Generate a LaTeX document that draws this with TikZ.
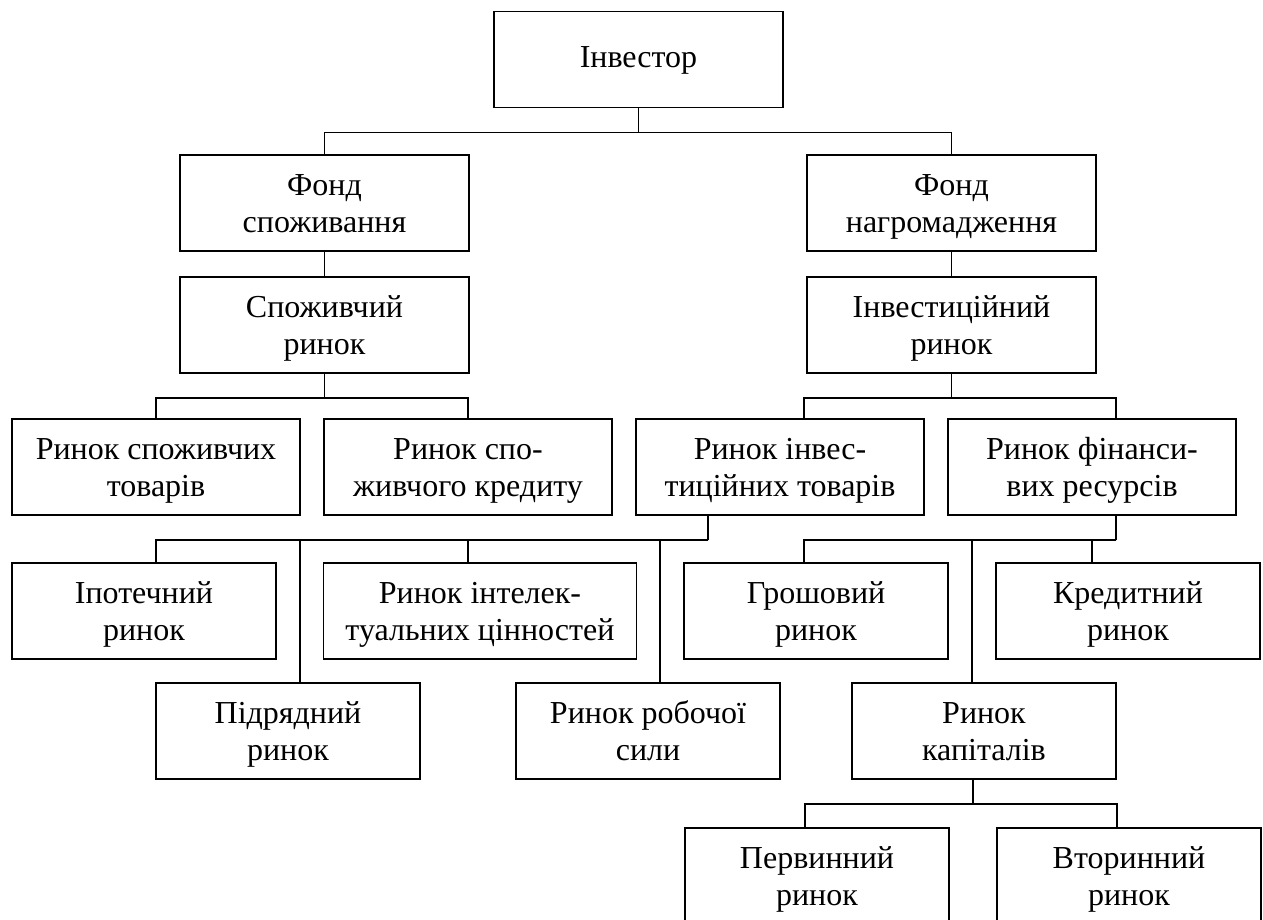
\documentclass[tikz,border=0pt]{standalone}
\usepackage{fontspec}
\setmainfont{Liberation Serif}
\usetikzlibrary{positioning}

\begin{document}
\begin{tikzpicture}[
      x=1pt, y=-1pt,
      node distance=24pt,
      base/.style={rectangle,draw,line width=1.8pt,minimum width=264pt,minimum height=96pt,
        align=center,text height=59pt,text depth=0pt,font=\fontsize{32}{37}\selectfont},
      wide/.style={base,minimum width=289pt},
      link/.style={line width=1.8pt}
    ]
    \clip (0,0) rectangle (1263,919);

    % Top
    \node[wide,text height=22pt,text depth=7pt] (Inv) at (638.5,59.5) {Інвестор};
    \node[wide] (FS) at (324.5,203) {Фонд\\споживання};
    \node[wide] (FN) at (951.5,203) {Фонд\\нагромадження};
    \node[wide,below=of FS] (SR) {Споживчий\\ринок};
    \node[wide,below=of FN] (IR) {Інвестиційний\\ринок};

    % Markets
    \node[wide,minimum width=288pt] (RST) at (156,467) {Ринок споживчих\\товарів};
    \node[wide,minimum width=288pt] (RSK) at (468,467) {Ринок спо-\\живчого кредиту};
    \node[wide,minimum width=288pt] (RIT) at (780,467) {Ринок інвес-\\тиційних товарів};
    \node[wide,minimum width=288pt] (RFR) at (1092,467) {Ринок фінанси-\\вих ресурсів};

    % Under investment goods
    \node[base] (Ipot) at (144,611) {Іпотечний\\ринок};
    \node[base,minimum width=313pt] (Intel) at (480,611) {Ринок інтелек-\\туальних цінностей};
    \node[base] (Pidr) at (288,731) {Підрядний\\ринок};
    \node[base] (Rob) at (648,731) {Ринок робочої\\сили};

    % Under financial resources
    \node[base] (Grosh) at (816,611) {Грошовий\\ринок};
    \node[base] (Kred) at (1128,611) {Кредитний\\ринок};
    \node[base] (Kap) at (984,731) {Ринок\\капіталів};
    \node[base] (Perv) at (817,876) {Первинний\\ринок};
    \node[base] (Vtor) at (1129,876) {Вторинний\\ринок};

    % Connectors
    \draw[link] (Inv.south) -- ++(0,24) coordinate (inv);
    \draw[link] (inv) -| (FS.north);
    \draw[link] (inv) -| (FN.north);
    \draw[link] (FS) -- (SR);
    \draw[link] (FN) -- (IR);

    \draw[link] (SR.south) -- ++(0,24) coordinate (sr);
    \draw[link] (sr) -| (RST.north);
    \draw[link] (sr) -| (RSK.north);

    \draw[link] (IR.south) -- ++(0,24) coordinate (ir);
    \draw[link] (ir) -| ([xshift=24pt]RIT.north);
    \draw[link] (ir) -| ([xshift=24pt]RFR.north);

    \draw[link] ([xshift=-72pt]RIT.south) -- ++(0,24) coordinate (rit);
    \draw[link] (rit) -| ([xshift=12pt]Ipot.north);
    \draw[link] (rit) -| ([xshift=12pt]Pidr.north);
    \draw[link] (rit) -| ([xshift=-12pt]Intel.north);
    \draw[link] (rit) -| ([xshift=12pt]Rob.north);

    \draw[link] ([xshift=24pt]RFR.south) -- ++(0,24) coordinate (rfr);
    \draw[link] (rfr) -| ([xshift=-12pt]Grosh.north);
    \draw[link] (rfr) -| ([xshift=-12pt]Kap.north);
    \draw[link] (rfr) -| ([xshift=-36pt]Kred.north);

    \draw[link] ([xshift=-11pt]Kap.south) -- ++(0,24) coordinate (kap);
    \draw[link] (kap) -| ([xshift=-12pt]Perv.north);
    \draw[link] (kap) -| ([xshift=-12pt]Vtor.north);

  \end{tikzpicture}
\end{document}
